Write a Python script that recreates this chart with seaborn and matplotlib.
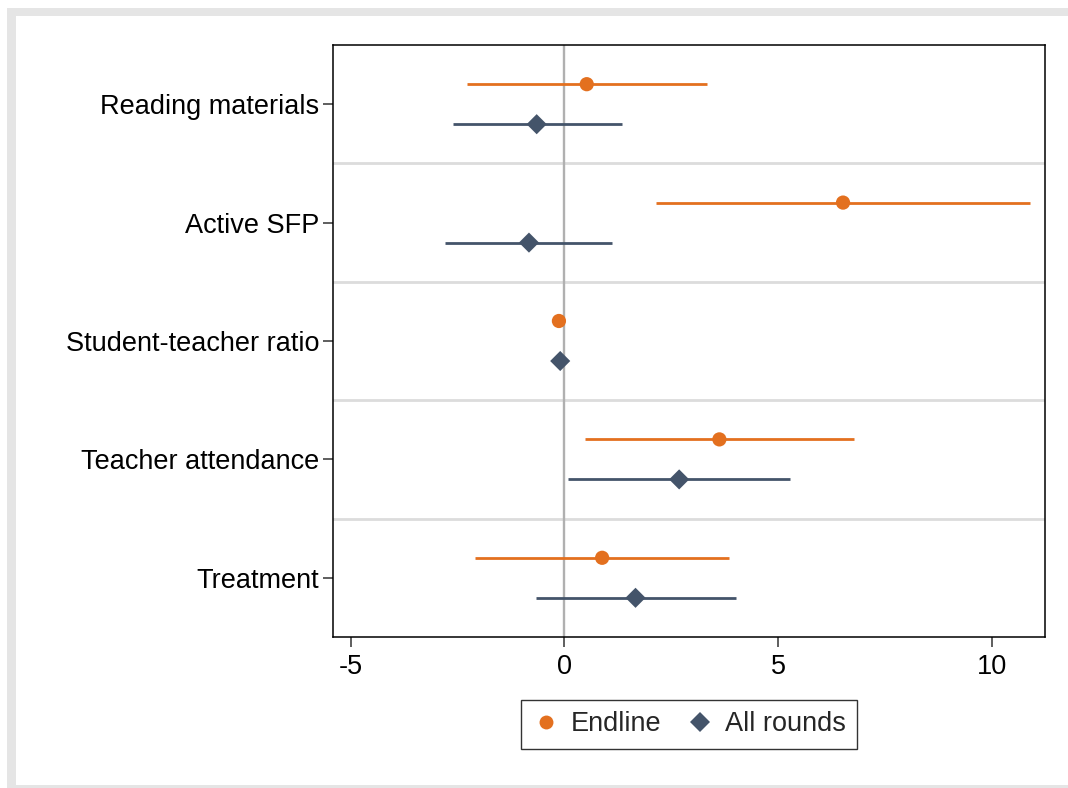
import matplotlib
matplotlib.use("Agg")
import matplotlib.pyplot as plt
from matplotlib.lines import Line2D
from matplotlib.patches import Rectangle
import numpy as np
import pandas as pd
import seaborn as sns

# Coefficient estimates with 95% confidence intervals
variables = ["Reading materials", "Active SFP", "Student-teacher ratio",
             "Teacher attendance", "Treatment"]
endline_coef = [0.52, 6.51, -0.13, 3.62, 0.88]
endline_lo = [-2.27, 2.15, -0.19, 0.49, -2.08]
endline_hi = [3.32, 10.87, -0.07, 6.76, 3.84]
allrounds_coef = [-0.65, -0.83, -0.10, 2.68, 1.66]
allrounds_lo = [-2.61, -2.79, -0.15, 0.09, -0.67]
allrounds_hi = [1.34, 1.10, -0.05, 5.28, 4.01]
x_ticks = [-5, 0, 5, 10]

ORANGE = "#E3701F"
NAVY = "#44546A"
FS = 19.5

sns.set_theme(style="white")
plt.rcParams["font.family"] = ["Liberation Sans", "DejaVu Sans"]

W, H = 1068, 788
fig = plt.figure(figsize=(W / 100, H / 100), dpi=100)
fig.patch.set_facecolor("white")

# outer grey frame with white inner panel
fig.patches.append(Rectangle((7 / W, -0.05), 1.2, (780 / H) + 0.05,
                             transform=fig.transFigure, facecolor="#e5e5e5",
                             edgecolor="none", zorder=-10))
fig.patches.append(Rectangle((16 / W, 3 / H), 1.2, (772 - 3) / H,
                             transform=fig.transFigure, facecolor="white",
                             edgecolor="none", zorder=-9))

ax = fig.add_axes([333 / W, (788 - 637) / H, (1045 - 333) / W, (637 - 45) / H])
ax.set_facecolor("white")

offset = 0.169
rows = []
for i, v in enumerate(variables):
    rows.append(dict(variable=v, model="Endline", pos=i - offset,
                     coef=endline_coef[i], lo=endline_lo[i], hi=endline_hi[i]))
    rows.append(dict(variable=v, model="All rounds", pos=i + offset,
                     coef=allrounds_coef[i], lo=allrounds_lo[i], hi=allrounds_hi[i]))
df = pd.DataFrame(rows)
palette = {"Endline": ORANGE, "All rounds": NAVY}

# group separators and zero reference line
for b in np.arange(0.5, len(variables) - 0.5, 1.0):
    ax.axhline(b, color="#dcdcdc", lw=2.0, zorder=0)
ax.axvline(0, color="#b0b0b0", lw=1.7, zorder=1)

# confidence interval lines
for model, sub in df.groupby("model"):
    ax.hlines(sub["pos"], sub["lo"], sub["hi"], color=palette[model],
              lw=2.0, zorder=2)

# point estimates
sns.scatterplot(data=df, x="coef", y="pos", hue="model", style="model",
                palette=palette, markers={"Endline": "o", "All rounds": "D"},
                s=105, edgecolor="none", legend=False, ax=ax, zorder=3)

ax.set_xlim(-5.41, 11.23)
ax.set_ylim(len(variables) - 0.5, -0.5)
ax.set_xticks(x_ticks)
ax.set_xticklabels([str(t) for t in x_ticks])
ax.set_yticks(range(len(variables)))
ax.set_yticklabels(variables)
ax.set_xlabel("")
ax.set_ylabel("")

for s in ax.spines.values():
    s.set_visible(True)
    s.set_color("black")
    s.set_linewidth(1.1)

ax.tick_params(axis="both", which="major", labelsize=FS, colors="#333333",
               labelcolor="black", length=7, width=1.1)
ax.tick_params(axis="y", pad=3)
ax.tick_params(axis="x", pad=5)
ax.xaxis.set_ticks_position("bottom")
ax.yaxis.set_ticks_position("left")

handles = [
    Line2D([], [], marker="o", linestyle="none", color=ORANGE, markersize=10,
           markeredgewidth=0, label="Endline"),
    Line2D([], [], marker="D", linestyle="none", color=NAVY, markersize=10,
           markeredgewidth=0, label="All rounds"),
]
leg = ax.legend(handles=handles, loc="upper center", bbox_to_anchor=(0.5, -0.106),
                borderaxespad=0, ncol=2, fontsize=FS, frameon=True, fancybox=False,
                edgecolor="black", handletextpad=0.4, columnspacing=0.95,
                handlelength=1.0, borderpad=0.42)
leg.get_frame().set_linewidth(1.0)

fig.savefig("out.png", dpi=100, facecolor=fig.get_facecolor())
